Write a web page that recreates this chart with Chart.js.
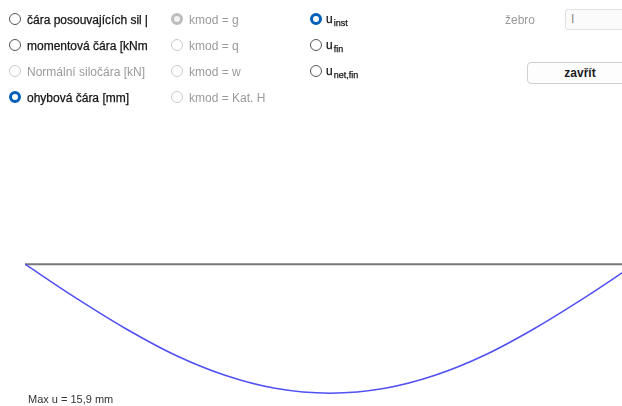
<!DOCTYPE html>
<html>
<head>
<meta charset="utf-8">
<script src="https://cdn.jsdelivr.net/npm/chart.js@4/dist/chart.umd.min.js"></script>
<style>
  html, body { margin:0; padding:0; background:#fff; }
  #wrap { position:relative; width:622px; height:406px; overflow:hidden; font-family:"Liberation Sans", Arial, sans-serif; font-size:12px; color:#141414; }
  #c { position:absolute; left:0; top:0; }
  .r { position:absolute; white-space:nowrap; overflow:hidden; height:16px; line-height:16px; -webkit-text-stroke:0.25px #141414; }
  .dot { position:absolute; width:10px; height:10px; border:1px solid #555; border-radius:50%; background:#fff; box-sizing:content-box; }
  .dot.dis { border-color:#c9c9c9; }
  .dot.on { width:6px; height:6px; border:3px solid #005fb8; background:#fff; }
  .dot.dison { width:6px; height:6px; border:3px solid #bdbdbd; background:#f3f3f3; }
  .r.dis-t { color:#9a9a9a; -webkit-text-stroke:0; }
  sub { font-size:9px; vertical-align:-3px; line-height:0; margin-left:1px; }
  #combo { position:absolute; left:565px; top:9px; width:70px; height:21px; border:1px solid #e2e2e2; border-radius:3px; background:#fbfbfb; box-sizing:border-box; color:#8a8a8a; padding-left:5px; line-height:19px; }
  #btn { position:absolute; left:527px; top:62px; width:106px; height:22px; border:1px solid #d0d0d0; border-radius:4px; background:#fdfdfd; box-sizing:border-box; text-align:center; line-height:20px; font-weight:bold; color:#1b1b1b; }
  #maxu { position:absolute; left:28px; top:393px; font-size:11px; color:#333; white-space:nowrap; }
</style>
</head>
<body>
<div id="wrap">
  <canvas id="c" width="622" height="406"></canvas>

  <div class="dot" style="left:9px;top:13px"></div>
  <div class="r" style="left:27px;top:12px;width:120px">čára posouvajících sil [kN]</div>
  <div class="dot" style="left:9px;top:39px"></div>
  <div class="r" style="left:27px;top:38px;width:120px">momentová čára [kNm]</div>
  <div class="dot dis" style="left:9px;top:65px"></div>
  <div class="r dis-t" style="left:27px;top:64px;width:125px">Normální siločára [kN]</div>
  <div class="dot on" style="left:9px;top:91px"></div>
  <div class="r" style="left:27px;top:90px;width:125px">ohybová čára [mm]</div>

  <div class="dot dison" style="left:171px;top:13px"></div>
  <div class="r dis-t" style="left:189px;top:12px">kmod = g</div>
  <div class="dot dis" style="left:171px;top:39px"></div>
  <div class="r dis-t" style="left:189px;top:38px">kmod = q</div>
  <div class="dot dis" style="left:171px;top:65px"></div>
  <div class="r dis-t" style="left:189px;top:64px">kmod = w</div>
  <div class="dot dis" style="left:171px;top:91px"></div>
  <div class="r dis-t" style="left:189px;top:90px">kmod = Kat. H</div>

  <div class="dot on" style="left:310px;top:13px"></div>
  <div class="r" style="left:326px;top:11px;height:20px">u<sub>inst</sub></div>
  <div class="dot" style="left:310px;top:39px"></div>
  <div class="r" style="left:326px;top:37px;height:20px">u<sub>fin</sub></div>
  <div class="dot" style="left:310px;top:65px"></div>
  <div class="r" style="left:326px;top:63px;height:20px">u<sub>net,fin</sub></div>

  <div class="r dis-t" style="left:505px;top:12px">žebro</div>
  <div id="combo">I</div>
  <div id="btn">zavřít</div>

  <div id="maxu">Max u = 15,9 mm</div>
</div>
<script>
// beam positions along the span [m] and deflection values [mm]
const positions   = [0, 0.5, 1.0, 1.5, 2.0, 2.5, 3.05, 3.6, 4.1, 4.6, 5.1, 5.6, 6.1];
const deflections = [0, 4.1, 7.9, 11.2, 13.7, 15.3, 15.9, 15.3, 13.7, 11.2, 7.9, 4.1, 0];
const beamEnds    = [0, 6.1];
const beamLevel   = [0, 0];

const curve = positions.map((x, i) => ({ x: x, y: deflections[i] }));
const beam  = beamEnds.map((x, i) => ({ x: x, y: beamLevel[i] }));

new Chart(document.getElementById('c'), {
  type: 'line',
  data: {
    datasets: [
      { data: beam, borderColor: '#777777', borderWidth: 2, pointRadius: 0, tension: 0, order: 2 },
      { data: curve, borderColor: '#5050f5', borderWidth: 1.5, pointRadius: 0, cubicInterpolationMode: 'monotone', order: 1 }
    ]
  },
  options: {
    responsive: false,
    animation: false,
    devicePixelRatio: 1,
    layout: { padding: { left: 25, right: 0, top: 248, bottom: 8 } },
    scales: {
      x: { type: 'linear', display: false, min: 0, max: 5.97 },
      y: { type: 'linear', display: false, reverse: true, min: -2, max: 16.5 }
    },
    plugins: { legend: { display: false }, tooltip: { enabled: false } }
  }
});
</script>
</body>
</html>
